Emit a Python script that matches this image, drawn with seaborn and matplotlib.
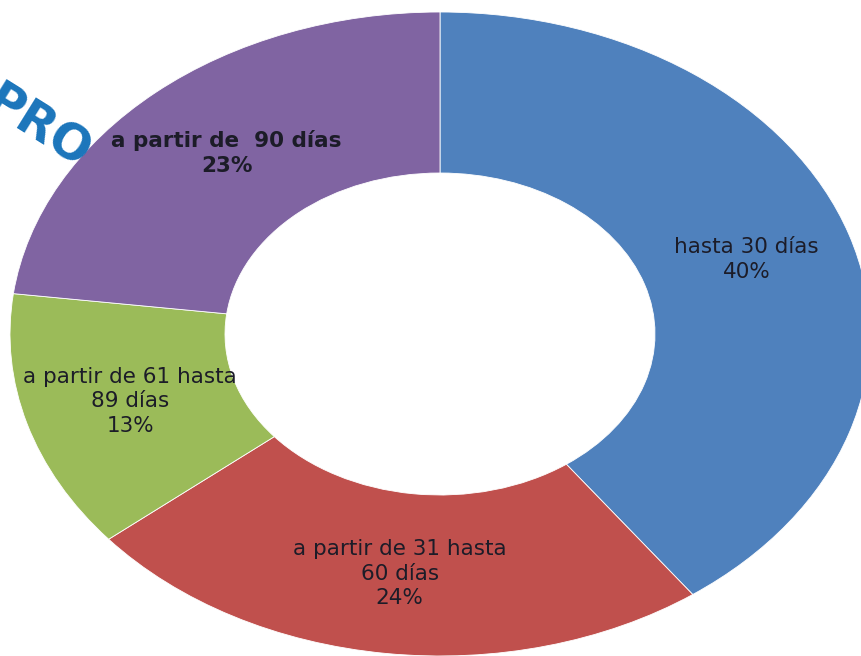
import matplotlib.pyplot as plt
import seaborn as sns

# plazo de cobro / porcentaje por tramo
tramos = ["hasta 30 días", "a partir de 31 hasta\n60 días",
          "a partir de 61 hasta\n89 días", "a partir de  90 días"]
porcentajes = [40, 24, 13, 23]
colores = ["#4F81BD", "#C0504D", "#9BBB59", "#8064A2"]
titulo_parcial = "PRO"

sns.set_theme(style="white")
plt.rcParams["font.family"] = ["DejaVu Sans"]

fig = plt.figure(figsize=(8.62, 6.56), dpi=100)
ax = fig.add_axes([0, 0, 1, 1])

etiquetas = [f"{t}\n{p}%" for t, p in zip(tramos, porcentajes)]
wedges, texts = ax.pie(
    porcentajes,
    labels=etiquetas,
    colors=sns.color_palette(colores),
    startangle=90,
    counterclock=False,
    labeldistance=0.75,
    wedgeprops=dict(width=0.5, edgecolor="white", linewidth=0.6),
    textprops=dict(fontsize=15.5, color="#1c1c28", linespacing=1.3),
)
for t in texts:
    t.set_horizontalalignment("center")
    t.set_verticalalignment("center")
texts[3].set_fontweight("bold")

# elipse estirada como en la imagen original
ax.set_aspect("auto")
ax.set_xlim(-440 / 430, (862 - 440) / 430)
ax.set_ylim(-(656 - 334) / 322, 334 / 322)
ax.axis("off")

fig.text(38 / 862, 1 - 128 / 656, titulo_parcial, color="#1B75BB",
         fontsize=35, fontweight="bold", rotation=-32,
         ha="center", va="center")

fig.savefig("out.png", dpi=100)
plt.close(fig)
